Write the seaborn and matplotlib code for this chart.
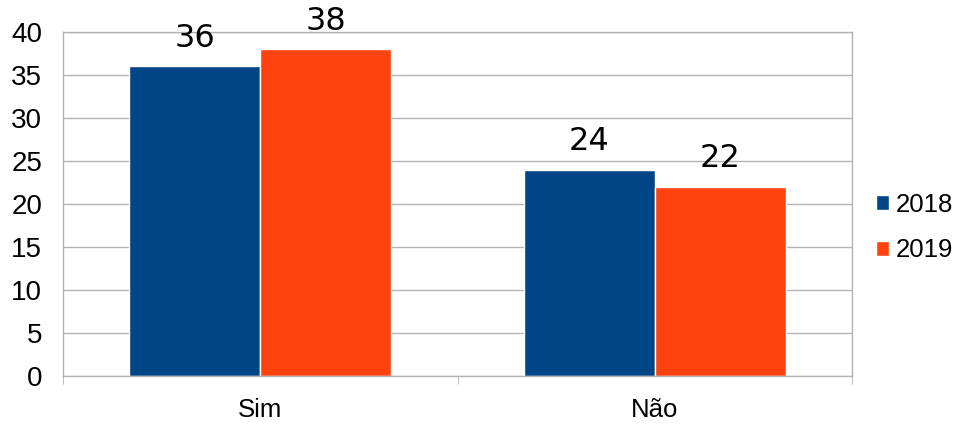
import matplotlib
matplotlib.use("Agg")
import matplotlib.pyplot as plt
import pandas as pd
import seaborn as sns
from matplotlib.ticker import FixedLocator

# chart values
categories = ["Sim", "Não"]
years = ["2018", "2019"]
values_2018 = [36, 24]
values_2019 = [38, 22]
palette = ["#004586", "#ff420e"]

df = pd.DataFrame({
    "categoria": categories * 2,
    "ano": [years[0]] * 2 + [years[1]] * 2,
    "valor": values_2018 + values_2019,
})

sns.set_style("white")
plt.rcParams["font.family"] = ["Liberation Sans", "DejaVu Sans"]
plt.rcParams["text.color"] = "black"
plt.rcParams["xtick.color"] = "black"
plt.rcParams["ytick.color"] = "black"

fig = plt.figure(figsize=(9.6, 4.26), dpi=100)
ax = fig.add_axes([63 / 960, 50 / 426, (852 - 63) / 960, (376 - 32) / 426])

sns.barplot(data=df, x="categoria", y="valor", hue="ano", palette=palette,
            width=0.664, gap=0, saturation=1, ax=ax, legend=True)

for cont in ax.containers:
    ax.bar_label(cont, padding=9, fontsize=23, family="DejaVu Sans", color="black")

ax.set_xlim(-0.5, 1.5)
ax.set_ylim(0, 40)
ax.set_yticks(range(0, 41, 5))
ax.set_xlabel("")
ax.set_ylabel("")
ax.yaxis.grid(True, color="#b3b3b3", lw=1)
ax.set_axisbelow(True)
for sp in ax.spines.values():
    sp.set_color("#b3b3b3")
    sp.set_linewidth(1)

ax.tick_params(axis="y", which="major", length=5, color="#b3b3b3", labelsize=20, pad=10)
ax.tick_params(axis="x", which="major", length=0, labelsize=18.5, pad=16)
ax.xaxis.set_minor_locator(FixedLocator([-0.5, 0.5, 1.5]))
ax.tick_params(axis="x", which="minor", length=6, color="#b3b3b3", bottom=True)

handles, labels = ax.get_legend_handles_labels()
ax.get_legend().remove()
fig.legend(handles, labels, loc="center left", bbox_to_anchor=(876 / 960, 1 - 227.5 / 426),
           frameon=False, fontsize=18.5, handlelength=0.5, handleheight=0.5,
           handletextpad=0.25, labelspacing=0.85, borderpad=0, borderaxespad=0)

fig.savefig("out.png", dpi=100)
